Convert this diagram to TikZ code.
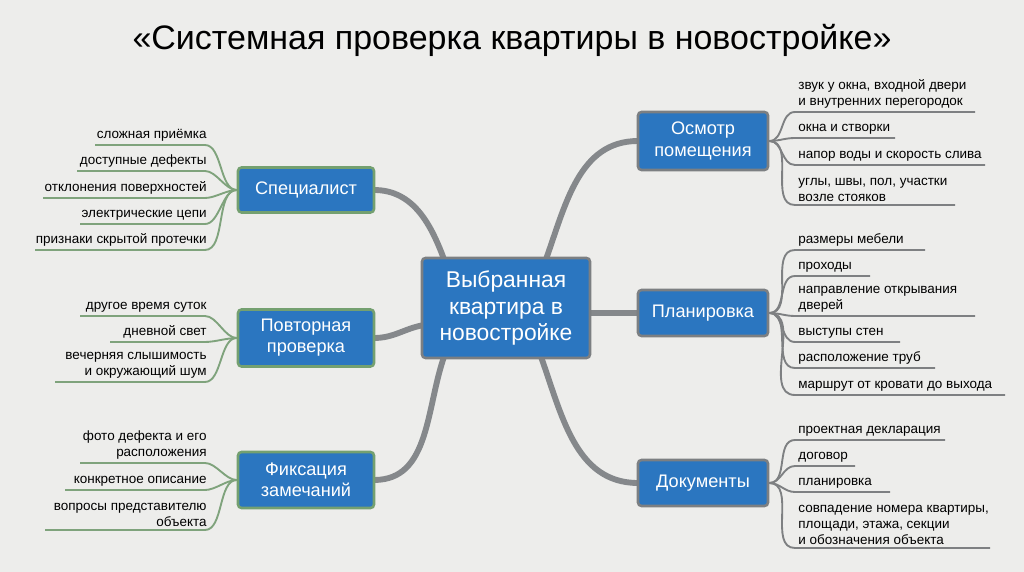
\documentclass[tikz,border=0pt]{standalone}
\usepackage{fontspec}
\setmainfont{Liberation Sans}
\begin{document}
\begin{tikzpicture}[x=0.03cm,y=-0.03cm,
  box/.style={draw=#1,line width=2.2pt,fill=boxblue,rounded corners=3pt,text=white,font=\fontsize{15.5}{18}\selectfont,align=center,inner sep=0pt},
  leaf/.style={font=\fontsize{11.5}{13.5}\selectfont,inner sep=1pt},
  main/.style={draw=maingray,line width=5pt},
  lg/.style={draw=leafgreen,line width=1.6pt},
  lr/.style={draw=leafgray,line width=1.6pt}]
\definecolor{boxblue}{HTML}{2B76C0}
\definecolor{bordergreen}{HTML}{74A070}
\definecolor{bordergray}{HTML}{7C7F82}
\definecolor{leafgreen}{HTML}{7FA37C}
\definecolor{leafgray}{HTML}{7E8082}
\definecolor{maingray}{HTML}{85888B}
\definecolor{bg}{HTML}{EDEDEB}
\fill[bg] (0,0) rectangle (1024,572);
\useasboundingbox (0,0) rectangle (1024,572);
\node[font=\fontsize{29}{32}\selectfont] (title) at (512,40) {«Системная проверка квартиры в новостройке»};

\coordinate (c) at (506,308);
\coordinate (s) at (306,190);
\coordinate (p) at (306,338);
\coordinate (f) at (306,480);
\coordinate (o) at (703,141);
\coordinate (pl) at (703,313);
\coordinate (d) at (703,483);

\draw[main] (374,190) to[out=0,in=110] (445,262);
\draw[main] (374,338) to[out=0,in=190] (424,325);
\draw[main] (374,480) to[out=0,in=-110] (445,354);
\draw[main] (638,141) to[out=180,in=70] (545,262);
\draw[main] (588,313) -- (638,313);
\draw[main] (638,483) to[out=180,in=-70] (540,354);

\node[box=bordergray,minimum width=168*0.03cm,minimum height=100*0.03cm,font=\fontsize{19.5}{23}\selectfont] (cb) at (c) {Выбранная\\квартира в\\новостройке};
\node[box=bordergreen,minimum width=136*0.03cm,minimum height=45*0.03cm] (sb) at (s) {Специалист};
\node[box=bordergreen,minimum width=136*0.03cm,minimum height=57*0.03cm] (pb) at (p) {Повторная\\проверка};
\node[box=bordergreen,minimum width=136*0.03cm,minimum height=56*0.03cm] (fb) at (f) {Фиксация\\замечаний};
\node[box=bordergray,minimum width=130*0.03cm,minimum height=58*0.03cm] (ob) at (o) {Осмотр\\помещения};
\node[box=bordergray,minimum width=130*0.03cm,minimum height=46*0.03cm] (plb) at (pl) {Планировка};
\node[box=bordergray,minimum width=130*0.03cm,minimum height=46*0.03cm] (db) at (d) {Документы};

\foreach \n/\y/\x/\t/\b in {
  s1/145/95/{сложная приёмка}/sb, s2/171/77/{доступные дефекты}/sb, s3/198/43/{отклонения поверхностей}/sb,
  s4/224/80/{электрические цепи}/sb, s5/250/35/{признаки скрытой протечки}/sb,
  p1/316/80/{другое время суток}/pb, p2/342/110/{дневной свет}/pb, p3/382/55/{вечерняя слышимость\\и окружающий шум}/pb,
  f1/463/80/{фото дефекта и его\\расположения}/fb, f2/490/65/{конкретное описание}/fb, f3/530/45/{вопросы представителю\\объекта}/fb}{
  \node[leaf,anchor=south east,align=right] (\n) at (208,\y-2) {\t};
  \coordinate (\n l) at (\x,\y);
  \draw[lg] (\n l) -- (205,\y) to[out=0,in=180,looseness=0.8] (\b.west);
}
\foreach \n/\y/\x/\t/\b in {
  o1/112/975/{звук у окна, входной двери\\и внутренних перегородок}/ob, o2/138/895/{окна и створки}/ob,
  o3/165/985/{напор воды и скорость слива}/ob, o4/205/955/{углы, швы, пол, участки\\возле стояков}/ob,
  l1/250/925/{размеры мебели}/plb, l2/276/870/{проходы}/plb, l3/316/975/{направление открывания\\дверей}/plb,
  l4/342/900/{выступы стен}/plb, l5/368/935/{расположение труб}/plb, l6/395/1005/{маршрут от кровати до выхода}/plb,
  d1/440/945/{проектная декларация}/db, d2/466/855/{договор}/db, d3/492/890/{планировка}/db,
  d4/548/990/{совпадение номера квартиры,\\площади, этажа, секции\\и обозначения объекта}/db}{
  \node[leaf,anchor=south west,align=left] (\n) at (797,\y-2) {\t};
  \coordinate (\n r) at (\x,\y);
  \draw[lr] (\b.east) to[out=0,in=180] (795,\y) -- (\n r);
}
\end{tikzpicture}
\end{document}
